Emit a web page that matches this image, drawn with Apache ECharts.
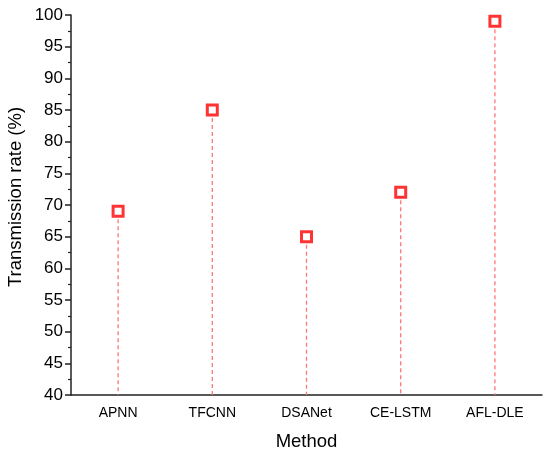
<!DOCTYPE html>
<html><head><meta charset="utf-8">
<script src="https://cdn.jsdelivr.net/npm/echarts@6/dist/echarts.min.js"></script>
<style>html,body{margin:0;padding:0;background:#fff}#c{width:550px;height:459px}</style>
</head><body><div id="c"></div>
<script>
const categories = ['APNN', 'TFCNN', 'DSANet', 'CE-LSTM', 'AFL-DLE'];
const rates = [69, 85, 65, 72, 99];
const yMin = 40, yMax = 100, yStep = 5;

const chart = echarts.init(document.getElementById('c'));
const font = 'Liberation Sans, Arial, sans-serif';
chart.setOption({
  animation: false,
  grid: { left: 71, right: 8, top: 15, bottom: 64, containLabel: false, outerBoundsMode: 'none' },
  xAxis: {
    type: 'category', data: categories, boundaryGap: true,
    name: 'Method', nameLocation: 'middle', nameGap: 37,
    nameTextStyle: { fontSize: 18.5, color: '#000', fontFamily: font },
    axisLine: { lineStyle: { color: '#222', width: 1.5 } },
    axisTick: { alignWithLabel: true, length: 6, lineStyle: { color: '#222', width: 1.5 } },
    axisLabel: { fontSize: 14, color: '#000', fontFamily: font, margin: 11 }
  },
  yAxis: {
    type: 'value', min: yMin, max: yMax, interval: yStep,
    name: 'Transmission rate (%)', nameLocation: 'middle', nameGap: 46,
    nameMoveOverlap: false,
    nameTextStyle: { fontSize: 18.5, color: '#000', fontFamily: font, padding: [0, 0, 0, 16] },
    axisLine: { show: true, lineStyle: { color: '#222', width: 1.5 } },
    axisTick: { show: true, length: 6, lineStyle: { color: '#222', width: 1.5 } },
    minorTick: { show: true, splitNumber: 2, length: 3, lineStyle: { color: '#222', width: 1.2 } },
    axisLabel: { fontSize: 17, color: '#000', fontFamily: font, margin: 8 },
    splitLine: { show: false }
  },
  series: [
    {
      type: 'custom', z: 1,
      data: rates.map((v, i) => [i, v]),
      renderItem: function (params, api) {
        const top = api.coord([api.value(0), api.value(1)]);
        const bot = api.coord([api.value(0), yMin]);
        return {
          type: 'line',
          shape: { x1: top[0], y1: top[1] + 8, x2: bot[0], y2: bot[1] },
          style: { stroke: '#f77', lineWidth: 1.3, lineDash: [4, 3] }
        };
      }
    },
    {
      type: 'scatter', z: 3,
      data: rates,
      symbol: 'rect', symbolSize: 10,
      itemStyle: { color: '#fff', borderColor: '#f00', borderWidth: 3 }
    }
  ]
});
</script></body></html>
